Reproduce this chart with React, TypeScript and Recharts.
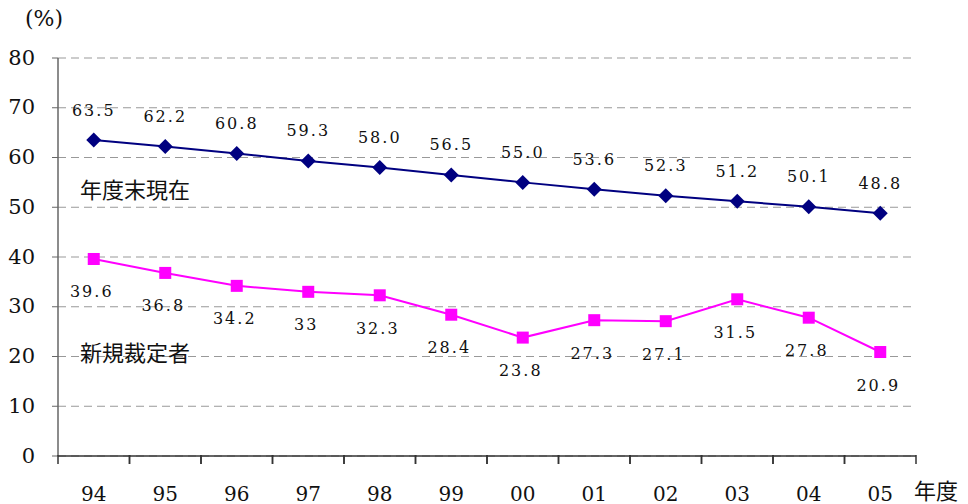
import { LineChart, Line, XAxis, YAxis, CartesianGrid } from "recharts";

const years = ["94", "95", "96", "97", "98", "99", "00", "01", "02", "03", "04", "05"];
const yearEnd = [63.5, 62.2, 60.8, 59.3, 58.0, 56.5, 55.0, 53.6, 52.3, 51.2, 50.1, 48.8];
const newRecipients = [39.6, 36.8, 34.2, 33, 32.3, 28.4, 23.8, 27.3, 27.1, 31.5, 27.8, 20.9];
const yTicks = [0, 10, 20, 30, 40, 50, 60, 70, 80];

const data = years.map((y, i) => ({ year: y, yearEnd: yearEnd[i], newRec: newRecipients[i] }));

const W = 968;
const H = 504;
const PLOT_LEFT = 58;
const PLOT_RIGHT = 916;
const BAND = (PLOT_RIGHT - PLOT_LEFT) / years.length;

const serif = "\"DejaVu Serif\", \"Liberation Serif\", serif";
const cjk = "\"Noto Sans CJK JP\", sans-serif";

function XTick(props: any) {
  const { x, y, payload } = props;
  return (
    <g>
      <line x1={x - BAND / 2} y1={y - 9} x2={x - BAND / 2} y2={y} stroke="#333" strokeWidth={1.5} />
      <line x1={x + BAND / 2} y1={y - 9} x2={x + BAND / 2} y2={y} stroke="#333" strokeWidth={1.5} />
      <text x={x} y={y + 31} textAnchor="middle" dominantBaseline="middle" style={{ fontFamily: serif }} fontSize={20} fill="#111">
        {payload.value}
      </text>
    </g>
  );
}

function YTick(props: any) {
  const { x, y, payload } = props;
  return (
    <text x={x} y={y + 1} textAnchor="end" dominantBaseline="middle" style={{ fontFamily: serif }} fontSize={21} fill="#111">
      {payload.value}
    </text>
  );
}

function Diamond(props: any) {
  const { cx, cy, index } = props;
  const r = 7.5;
  return (
    <polygon
      key={`d-${index}`}
      points={`${cx},${cy - r} ${cx + r},${cy} ${cx},${cy + r} ${cx - r},${cy}`}
      fill="#000080"
    />
  );
}

function Square(props: any) {
  const { cx, cy, index } = props;
  const s = 12;
  return <rect key={`s-${index}`} x={cx - s / 2} y={cy - s / 2} width={s} height={s} fill="#FF00FF" />;
}

function TopLabel(props: any) {
  const { x, y, value, index } = props;
  return (
    <text key={`t-${index}`} x={x} y={y - 29} textAnchor="middle" dominantBaseline="middle" style={{ fontFamily: serif, letterSpacing: 2 }} fontSize={16} fill="#111">
      {Number(value).toFixed(1)}
    </text>
  );
}

function BottomLabel(props: any) {
  const { x, y, value, index } = props;
  return (
    <text key={`b-${index}`} x={x - 2} y={y + 34} textAnchor="middle" dominantBaseline="middle" style={{ fontFamily: serif, letterSpacing: 2 }} fontSize={16} fill="#111">
      {String(value)}
    </text>
  );
}

export default function App() {
  return (
    <div style={{ position: "absolute", left: 0, top: 0, width: W, height: H, background: "#fff" }}>
      <LineChart width={W} height={H} data={data} margin={{ top: 58, right: W - PLOT_RIGHT, bottom: 0, left: 0 }}>
        <CartesianGrid vertical={false} stroke="#999" strokeDasharray="8 5" />
        <XAxis
          dataKey="year"
          height={48}
          tick={<XTick />}
          tickLine={false}
          axisLine={{ stroke: "#333", strokeWidth: 1.5 }}
          interval={0}
          padding={{ left: BAND / 2, right: BAND / 2 }}
        />
        <YAxis
          width={PLOT_LEFT}
          domain={[0, 80]}
          ticks={yTicks}
          interval={0}
          tickSize={6}
          tickMargin={17}
          axisLine={{ stroke: "#666", strokeWidth: 1.5 }}
          tickLine={{ stroke: "#666" }}
          tick={<YTick />}
        />
        <Line
          dataKey="yearEnd"
          stroke="#000080"
          strokeWidth={2}
          dot={Diamond}
          activeDot={false}
          isAnimationActive={false}
          label={TopLabel}
        />
        <Line
          dataKey="newRec"
          stroke="#FF00FF"
          strokeWidth={2}
          dot={Square}
          activeDot={false}
          isAnimationActive={false}
          label={BottomLabel}
        />
      </LineChart>
      <div style={{ position: "absolute", left: 25, top: 6, fontFamily: serif, fontSize: 22, color: "#111" }}>(%)</div>
      <div style={{ position: "absolute", left: 914, top: 474, fontFamily: cjk, fontSize: 22, color: "#111", lineHeight: "30px" }}>年度</div>
      <div style={{ position: "absolute", left: 80, top: 173, fontFamily: cjk, fontSize: 22, color: "#111", lineHeight: "30px" }}>年度末現在</div>
      <div style={{ position: "absolute", left: 80, top: 336, fontFamily: cjk, fontSize: 22, color: "#111", lineHeight: "30px" }}>新規裁定者</div>
    </div>
  );
}
